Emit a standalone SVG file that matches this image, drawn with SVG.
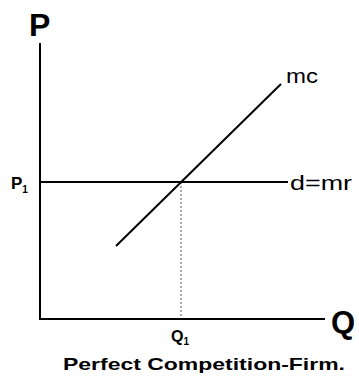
<svg xmlns="http://www.w3.org/2000/svg" width="359" height="379" viewBox="0 0 359 379">
<style>
text{font-family:"Liberation Sans",Arial,sans-serif;fill:#000}
.b{font-weight:bold}
.ax{stroke:#000;stroke-width:2;fill:none}
.ln{stroke:#000;stroke-width:2;fill:none}
.dot{stroke:#555;stroke-width:1;stroke-dasharray:2 2;fill:none}
</style>
<rect width="359" height="379" fill="#fff"/>
<g id="connectors">
<line class="dot" x1="181" y1="182" x2="181" y2="319"/>
<line class="ax" x1="40" y1="43" x2="40" y2="319"/>
<line class="ax" x1="39" y1="319" x2="325" y2="319"/>
<line class="ln" x1="40" y1="182" x2="288" y2="182"/>
<line class="ln" x1="116" y1="246" x2="281" y2="84"/>
</g>
<g id="label-P"><text class="b" x="29" y="36" font-size="32">P</text></g>
<g id="label-Q"><text class="b" x="331" y="333" font-size="31">Q</text></g>
<g id="label-P1"><text class="b" x="11" y="189" font-size="17">P<tspan font-size="10" dy="4">1</tspan></text></g>
<g id="label-Q1"><text class="b" x="171" y="342" font-size="16">Q<tspan font-size="10" dy="3">1</tspan></text></g>
<g id="label-mc"><text x="286" y="83" font-size="21" textLength="32" lengthAdjust="spacingAndGlyphs">mc</text></g>
<g id="label-dmr"><text x="290" y="190" font-size="21" textLength="62" lengthAdjust="spacingAndGlyphs">d=mr</text></g>
<g id="title"><text class="b" x="63" y="370" font-size="17" textLength="282" lengthAdjust="spacingAndGlyphs">Perfect Competition-Firm.</text></g>
</svg>
